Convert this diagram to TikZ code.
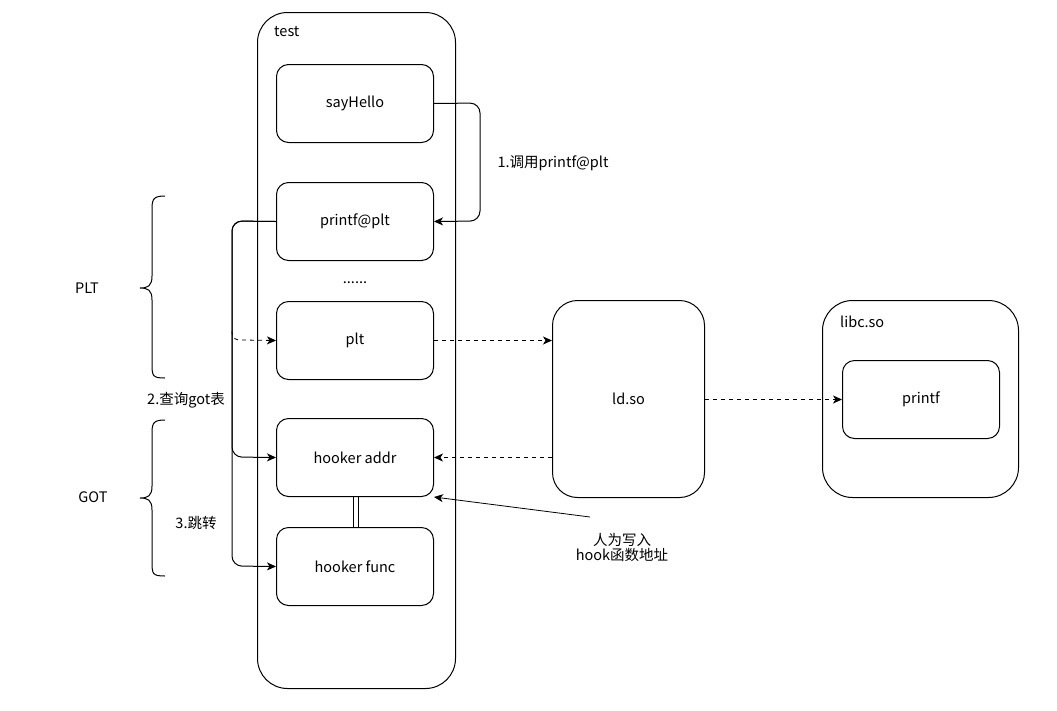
\documentclass[tikz,border=0pt]{standalone}
\usepackage{fontspec}
\setmainfont{Noto Sans CJK SC}
\usetikzlibrary{arrows.meta}
\begin{document}
\begin{tikzpicture}[x=1pt,y=-1pt,
  font=\fontsize{14.5}{17}\selectfont,
  box/.style={draw,line width=1pt,rounded corners=12,minimum width=157pt,minimum height=78pt,anchor=north west,inner sep=0pt},
  big/.style={draw,line width=1pt,anchor=north west,inner sep=0pt},
  arr/.style={line width=1pt,-{Stealth[length=9pt,width=8pt,inset=2.5pt]}},
  dsh/.style={arr,dashed,dash pattern=on 4pt off 4pt},
  lbl/.style={inner sep=0pt,align=center}]
\useasboundingbox (0,0) rectangle (1057,710);
% containers
\node[big,rounded corners=30,minimum width=198pt,minimum height=676pt] (test) at (257,12) {};
\node[lbl,anchor=west] (testl) at (274,32) {test};
\node[big,rounded corners=25,minimum width=152pt,minimum height=197pt] (ld) at (552,300) {};
\node[lbl] (ldl) at (ld.center) {ld.so};
\node[big,rounded corners=30,minimum width=196pt,minimum height=197pt] (libc) at (822,300) {};
\node[lbl,anchor=west] (libcl) at (840,322) {libc.so};
% inner boxes
\node[box] (say) at (276,64) {};
\node[lbl] at (say.center) {sayHello};
\node[box] (pp) at (276,182) {};
\node[lbl] at (pp.center) {printf@plt};
\node[lbl] (dots) at (355,283) {......};
\node[box] (plt) at (276,301) {};
\node[lbl] at (plt.center) {plt};
\node[box] (ha) at (276,418) {};
\node[lbl] at (ha.center) {hooker addr};
\node[box] (hf) at (276,527) {};
\node[lbl] at (hf.center) {hooker func};
\node[box] (pf) at (842,360) {};
\node[lbl] at (pf.center) {printf};
% arrow 1
\coordinate (c1a) at (480,103);
\coordinate (c1b) at (480,221);
\draw[arr,rounded corners=10] (say.east) -- (c1a) -- (c1b) -- (pp.east);
\node[lbl] (l1) at (553,163) {1.调用printf@plt};
% arrows 2 and 3
\coordinate (b1) at (232,221);
\coordinate (b2) at (232,457);
\coordinate (b3) at (232,566);
\coordinate (b4) at (232,331);
\draw[arr,rounded corners=10] (pp.west) -- (b1) -- (b2) -- (ha.west);
\draw[arr,rounded corners=10] (pp.west) -- (b1) -- (b3) -- (hf.west);
\draw[dsh,line width=0.8pt] (b4) .. controls (232,338) and (234,340) .. (242,340) -- (plt.west);
\node[lbl] (l2) at (186,400) {2.查询got表};
\node[lbl] (l3) at (196,523) {3.跳转};
% double line
\draw[line width=1pt] (353,496) -- (353,527);
\draw[line width=1pt] (358,496) -- (358,527);
% dashed arrows
\draw[dsh] (plt.east) -- (ld.west |- plt.east);
\draw[dsh] (ld.west |- ha.east) -- (ha.east);
\draw[dsh] (ld.east |- pf.west) -- (pf.west);
% manual write
\coordinate (mw) at (590,517);
\draw[arr,line width=0.8pt] (mw) -- (ha.south east);
\node[lbl] (l4) at (622,548) {人为写入\\[-2pt]hook函数地址};
% braces
\draw[line width=1pt] (165,196) .. controls (152,196) and (152,200) .. (152,212) -- (152,276) .. controls (152,286) and (148,288) .. (140,288) .. controls (148,288) and (152,290) .. (152,300) -- (152,362) .. controls (152,376) and (152,378) .. (165,378);
\draw[line width=1pt] (165,420) .. controls (152,420) and (152,424) .. (152,436) -- (152,486) .. controls (152,496) and (148,498) .. (140,498) .. controls (148,498) and (152,500) .. (152,510) -- (152,560) .. controls (152,574) and (152,576) .. (165,576);
\node[lbl] (plt_l) at (87,288) {PLT};
\node[lbl] (got_l) at (93,497) {GOT};
\end{tikzpicture}
\end{document}
